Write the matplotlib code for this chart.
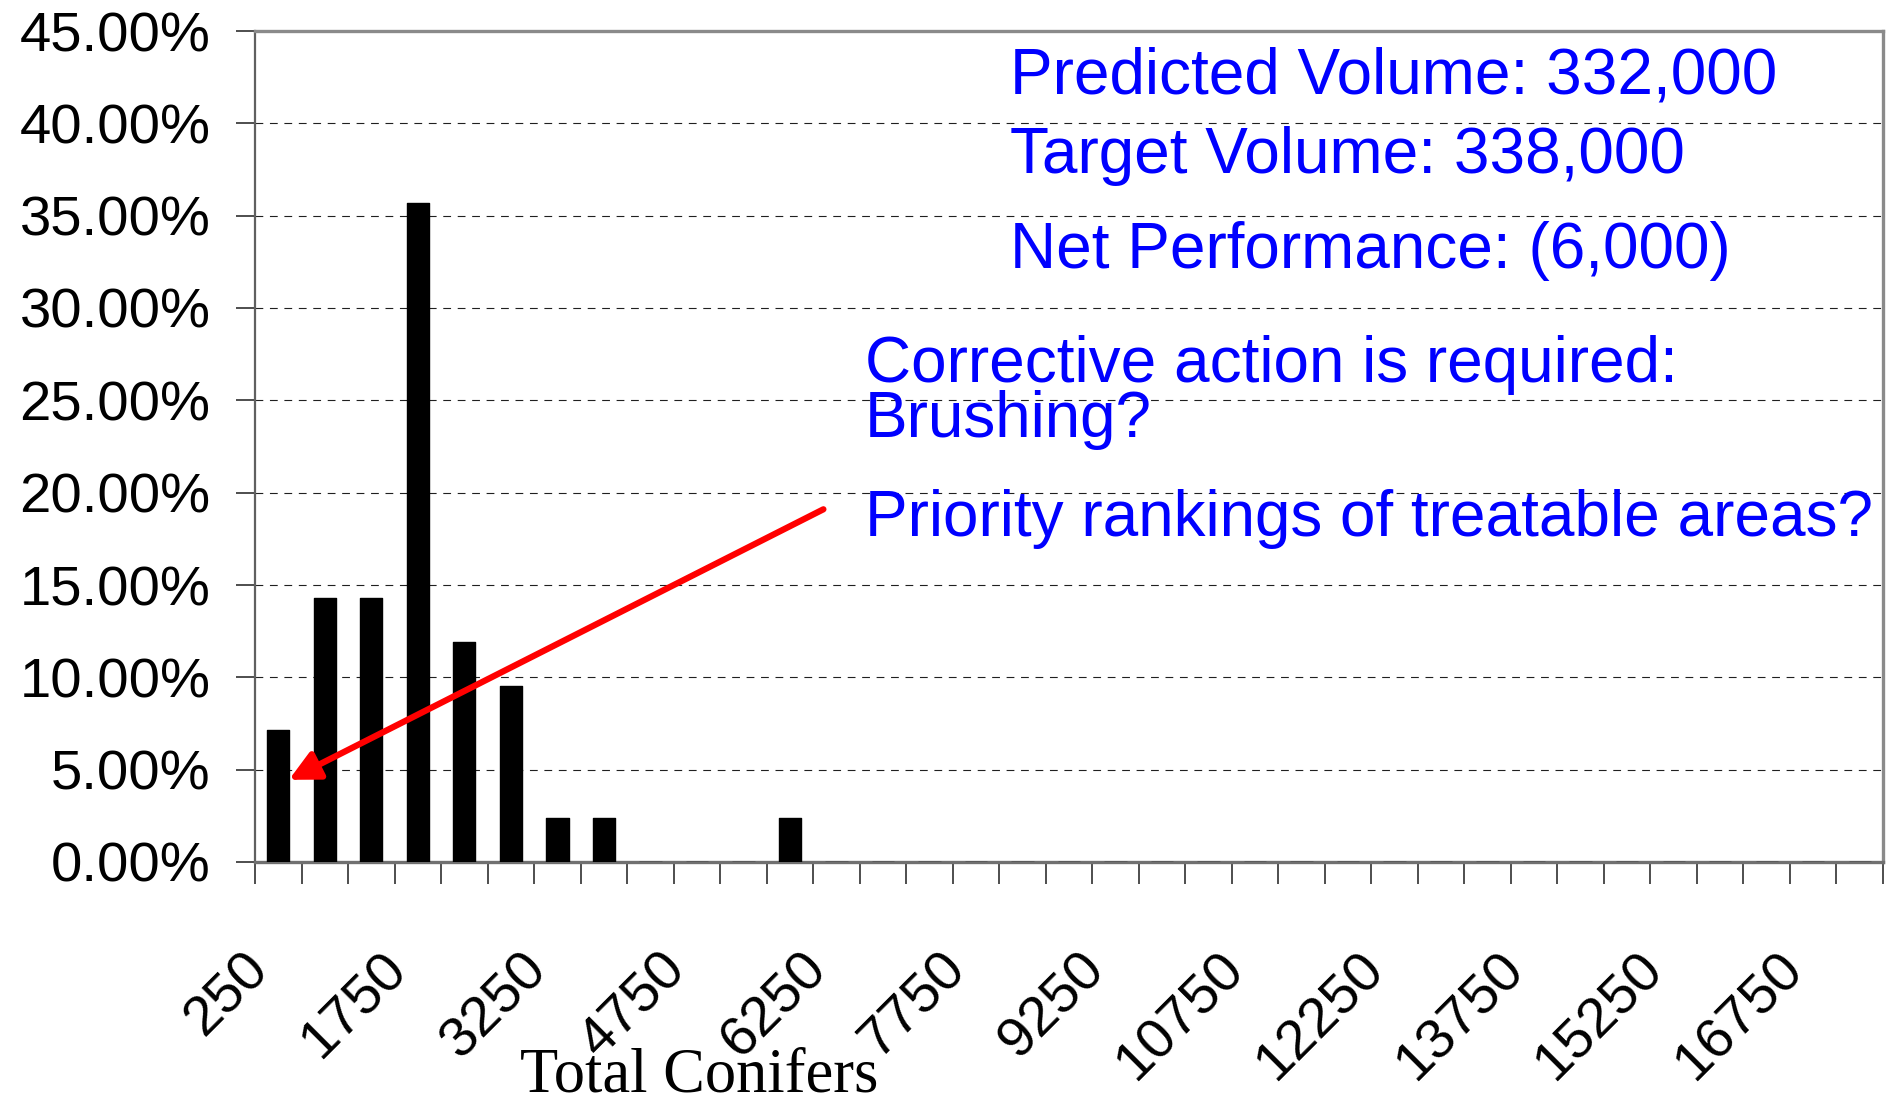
import numpy as np
import matplotlib
matplotlib.use("Agg")
import matplotlib.pyplot as plt
from matplotlib.ticker import FuncFormatter

# conifer density classes (stems/ha) and share of plots in each class
class_mids = list(range(250, 17251, 500))
pct = [7.14, 14.29, 14.29, 35.71, 11.90, 9.52, 2.38, 2.38, 0, 0, 0, 2.38] + [0] * 23
tick_every = 3

notes_top = ["Predicted Volume: 332,000", "Target Volume: 338,000", "Net Performance: (6,000)"]
notes_bottom = ["Corrective action is required:", "Brushing?", "Priority rankings of treatable areas?"]

W, H = 1890, 1105
fig = plt.figure(figsize=(W / 100, H / 100), dpi=100)
ax = fig.add_axes([255 / W, (H - 862) / H, (1883 - 255) / W, (862 - 31) / H])

x = np.arange(len(class_mids))
ax.bar(x, pct, width=0.48, color="black", edgecolor="black", linewidth=1, joinstyle="round", zorder=3)

ax.set_xlim(-0.5, len(class_mids) - 0.5)
ax.set_ylim(0, 45)
ax.set_yticks(np.arange(0, 46, 5))
ax.yaxis.set_major_formatter(FuncFormatter(lambda v, p: f"{v:.2f}%"))
ax.yaxis.grid(True, linestyle=(0, (7, 6)), color="#202020", linewidth=0.8, zorder=0)

ax.set_xticks(x[::tick_every])
ax.set_xticklabels([str(class_mids[i]) for i in x[::tick_every]], rotation=45, ha="right", va="top")
ax.set_xticks(np.arange(-0.5, len(class_mids), 1), minor=True)
ax.tick_params(axis="x", which="major", length=0, pad=58)
ax.tick_params(axis="x", which="minor", length=16, width=1.2, color="#303030", direction="out")
ax.tick_params(axis="y", length=14, width=1.2, color="#303030", pad=18)

for lab in ax.get_xticklabels() + ax.get_yticklabels():
    lab.set_fontfamily("Liberation Sans")
    lab.set_fontsize(40.5)

for side in ["top", "right", "bottom"]:
    ax.spines[side].set_color("#8a8a8a")
    ax.spines[side].set_linewidth(2.4)
ax.spines["bottom"].set_color("#707070")
ax.spines["left"].set_color("#606060")
ax.spines["left"].set_linewidth(1.6)

fig.text(699 / W, 1 - 1091 / H, "Total Conifers", family="Liberation Serif", fontsize=45,
         ha="center", va="baseline")

for txt, yb in zip(notes_top, [93, 173, 268]):
    fig.text(1010 / W, 1 - yb / H, txt, family="Liberation Sans", fontsize=46, color="#0000ff",
             va="baseline")
for txt, yb in zip(notes_bottom, [382, 437, 536]):
    fig.text(865 / W, 1 - yb / H, txt, family="Liberation Sans", fontsize=46, color="#0000ff",
             va="baseline")

ax.annotate("", xy=(0.23, 4.45), xytext=(11.72, 19.1),
            arrowprops=dict(arrowstyle="-|>", color="#ff0000", lw=4.5, mutation_scale=45,
                            shrinkA=0, shrinkB=0), zorder=5)

fig.savefig("out.png", dpi=100)
